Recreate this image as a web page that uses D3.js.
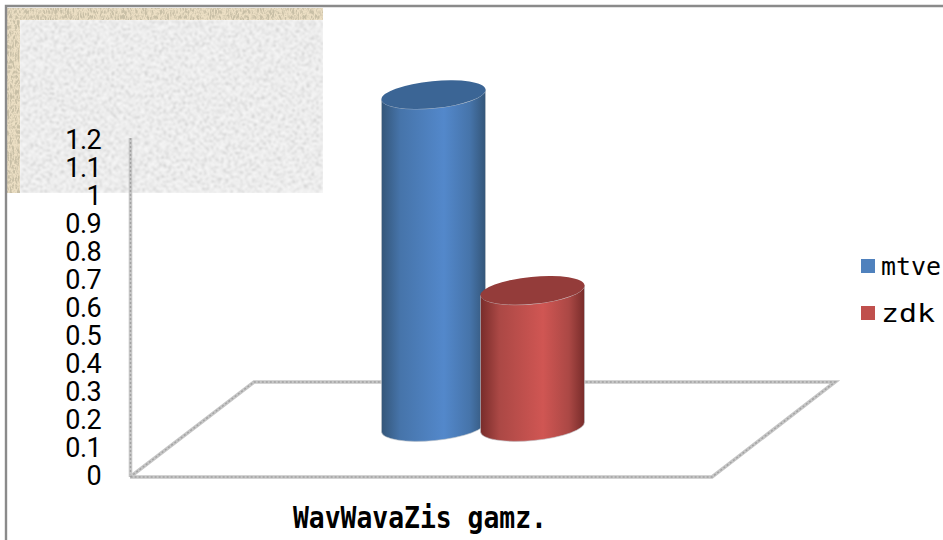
<!DOCTYPE html>
<html><head><meta charset="utf-8">
<script src="https://cdn.jsdelivr.net/npm/d3@7"></script>
<style>html,body{margin:0;padding:0;background:#fff;overflow:hidden}svg{display:block}</style>
</head><body>
<svg id="c" width="943" height="540"></svg>
<script>
const categories = ["mtve", "zdk"];
const seriesValues = [1.18, 0.485];
const tickValues = [0,0.1,0.2,0.3,0.4,0.5,0.6,0.7,0.8,0.9,1,1.1,1.2];
const tickLabels = ["0","0.1","0.2","0.3","0.4","0.5","0.6","0.7","0.8","0.9","1","1.1","1.2"];
const axisTitle = "WavWavaZis gamz.";
const barColors = [
  {dark:"#345679", mid:"#4674aa", light:"#5388cb", top:"#3b6595", key:"#4f81bd"},
  {dark:"#782c2a", mid:"#ab4845", light:"#d05653", top:"#943c3a", key:"#c0504d"}
];

const svg = d3.select("#c");
const defs = svg.append("defs");

const paper = defs.append("filter").attr("id","paper").attr("x",0).attr("y",0).attr("width","100%").attr("height","100%");
paper.append("feTurbulence").attr("type","fractalNoise").attr("baseFrequency",0.42).attr("numOctaves",3).attr("seed",7);
paper.append("feColorMatrix").attr("type","matrix")
  .attr("values","0 0 0 0 0.55  0 0 0 0 0.55  0 0 0 0 0.55  3.4 0 0 0 -1.5");
paper.append("feGaussianBlur").attr("stdDeviation",0.9);
paper.append("feComposite").attr("in2","SourceGraphic").attr("operator","over");

const weave = defs.append("filter").attr("id","weave").attr("x",0).attr("y",0).attr("width","100%").attr("height","100%");
weave.append("feTurbulence").attr("type","turbulence").attr("baseFrequency","0.4 0.2").attr("numOctaves",2).attr("seed",3);
weave.append("feColorMatrix").attr("type","matrix")
  .attr("values","0 0 0 0 0.58  0 0 0 0 0.52  0 0 0 0 0.38  2.6 0 0 0 -0.25");
weave.append("feComposite").attr("in2","SourceGraphic").attr("operator","over");

svg.append("rect").attr("x",7).attr("y",8).attr("width",316).attr("height",185).attr("fill","#ecdfc4").attr("filter","url(#weave)");
svg.append("rect").attr("x",20).attr("y",20).attr("width",303).attr("height",173).attr("fill","#f8f8f8").attr("filter","url(#paper)");

svg.append("path").attr("d",d3.line()([[6,540],[6,6],[943,6]])).attr("fill","none").attr("stroke","#8a8a8a").attr("stroke-width",2.4);

const y = d3.scaleLinear().domain([0,1.2]).range([477,139]);
const yLabel = d3.scaleLinear().domain([0,1.2]).range([475,139]);

const axis = d3.axisLeft(yLabel).tickValues(tickValues).tickFormat((d,i)=>tickLabels[i]).tickSize(0).tickPadding(0);
const ax = svg.append("g").attr("transform","translate(101,0)").call(axis);
ax.select(".domain").remove();
ax.selectAll("text").attr("font-family","Roboto").attr("font-size",27).attr("font-weight",400).attr("letter-spacing",-0.6).attr("fill","#000").attr("dy","0.36em");

const floor = [[130,477],[254,382],[835,382],[712,477],[130,477]];
const wall = [[130.5,138],[130.5,477]];
function rough(pts){
  svg.append("path").attr("d",d3.line()(pts)).attr("fill","none").attr("stroke","#c6c6c6").attr("stroke-width",3.6).attr("stroke-linejoin","miter");
  svg.append("path").attr("d",d3.line()(pts)).attr("fill","none").attr("stroke","#a2a2a2").attr("stroke-width",1.4).attr("stroke-dasharray","2 2");
}
rough(wall); rough(floor);

const x = d3.scaleBand().domain(categories).range([384,582]);
const ry = 13.5, rx = 52, tilt = -5.5, baseY = 427;
function cy(v){ return baseY - (y(0)-y(v)); }

categories.forEach((c,i)=>{
  const col = barColors[i];
  const g = defs.append("linearGradient").attr("id","g"+i).attr("x1",0).attr("x2",1).attr("y1",0).attr("y2",0);
  [[0,col.dark],[0.18,col.mid],[0.6,col.light],[0.85,col.mid],[1,col.dark]].forEach(s=>
    g.append("stop").attr("offset",s[0]).attr("stop-color",s[1]));
});

categories.forEach((c,i)=>{
  const col = barColors[i];
  const cx = x(c)+x.bandwidth()/2, top = cy(seriesValues[i]);
  const dy = rx*Math.tan(-tilt*Math.PI/180);
  const d = `M${cx-rx},${top+dy} L${cx-rx},${baseY+dy} A${rx},${ry} ${tilt} 0 0 ${cx+rx},${baseY-dy} L${cx+rx},${top-dy} A${rx},${ry} ${tilt} 0 1 ${cx-rx},${top+dy} Z`;
  svg.append("path").attr("d",d).attr("fill",`url(#g${i})`).attr("stroke","#bfc4c9").attr("stroke-width",0.6);
  svg.append("ellipse").attr("cx",cx).attr("cy",top).attr("rx",rx+0.3).attr("ry",ry)
    .attr("transform",`rotate(${tilt} ${cx} ${top})`).attr("fill",col.top);
});

const legendY = d3.scalePoint().domain(categories).range([266,313]);
categories.forEach((c,i)=>{
  svg.append("rect").attr("x",861).attr("y",legendY(c)-7).attr("width",14).attr("height",14).attr("fill",barColors[i].key);
  svg.append("text").attr("x",881).attr("y",legendY(c)+9).attr("font-family","'DejaVu Sans Mono'").attr("font-size",25)
    .attr("textLength",i===1?54:60).attr("lengthAdjust","spacingAndGlyphs").attr("fill","#000").text(c);
});

svg.append("text").attr("x",293).attr("y",528).attr("font-family","'DejaVu Sans Mono'").attr("font-weight","bold")
  .attr("font-size",31).attr("textLength",254).attr("lengthAdjust","spacingAndGlyphs").attr("fill","#000").text(axisTitle);
</script>
</body></html>
